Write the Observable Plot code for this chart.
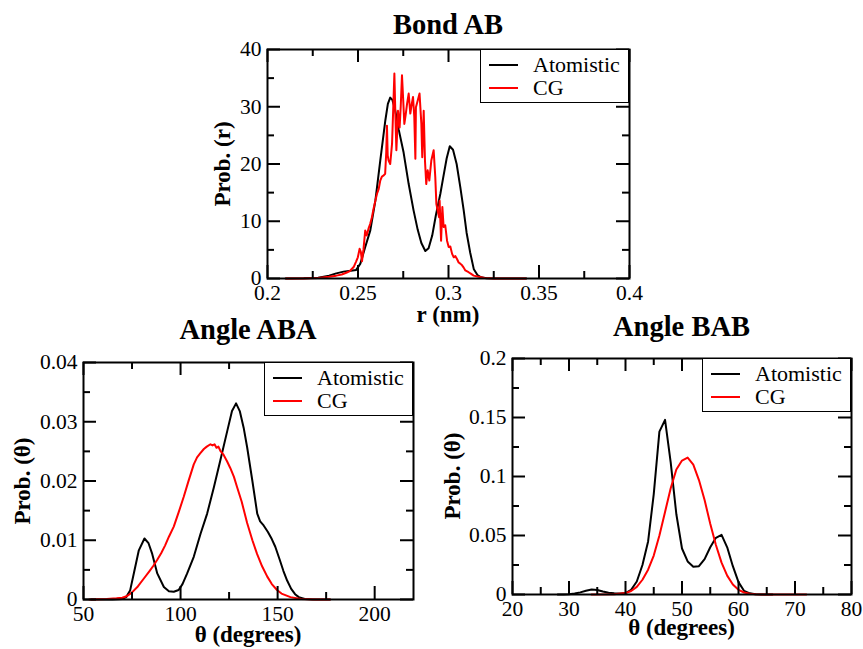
<!DOCTYPE html>
<html>
<head>
<meta charset="utf-8">
<script src="https://cdn.jsdelivr.net/npm/d3@7"></script>
<script src="https://cdn.jsdelivr.net/npm/@observablehq/plot@0.6"></script>
<style>
  html, body { margin: 0; padding: 0; background: #fff; }
  #root { position: relative; width: 863px; height: 649px; background: #fff; overflow: hidden; font-family: 'Liberation Serif', serif; }
  .t { position: absolute; white-space: nowrap; line-height: 1; color: #000; font-family: 'Liberation Serif', serif; }
  svg text { font-family: 'Liberation Serif', serif !important; }
</style>
</head>
<body>
<div id="root"></div>
<script>
// ---------------- DATA ----------------
const seriesNames = ["Atomistic", "CG"];
const seriesColors = ["#000000", "#ff0000"];

// Bond AB : r (nm) vs Prob.(r)
const bondAtomistic = [
  [0.210,0],[0.220,0.05],[0.228,0.15],[0.234,0.5],[0.238,0.9],[0.242,1.2],[0.246,1.35],[0.249,1.5],
  [0.2513,2.6],[0.254,5.5],[0.2568,8.4],[0.2596,13.6],[0.2623,20.6],[0.2651,27.6],[0.2665,30.5],
  [0.2678,31.6],[0.269,31.2],[0.2705,29.5],[0.2725,26],[0.2752,22],[0.278,16.5],[0.2807,11.9],
  [0.283,8.5],[0.285,6.2],[0.2872,4.8],[0.289,5.3],[0.291,7.5],[0.293,11],[0.2955,14.8],[0.297,17.5],
  [0.299,21],[0.3007,23.1],[0.3025,22.5],[0.3045,20],[0.3065,16],[0.3084,11.9],[0.310,8],[0.312,4.5],
  [0.314,1.6],[0.316,0.6],[0.318,0.2],[0.321,0.05],[0.325,0],[0.343,0]
];
const bondCG = [
  [0.2103,0],[0.220,0.02],[0.228,0.1],[0.234,0.3],[0.238,0.5],[0.241,0.7],[0.2435,1.0],[0.2455,1.3],
  [0.2476,2.0],[0.2490,3.0],[0.2499,3.7],[0.2509,5.2],[0.2516,4.6],[0.2522,3.0],[0.2530,5.0],[0.2540,8.4],
  [0.2548,7.5],[0.2558,8.7],[0.2567,9.5],[0.2577,10.7],[0.2586,12.2],[0.2596,13.6],[0.2605,14.8],
  [0.2614,15.6],[0.2623,17.1],[0.2632,17.8],[0.2642,18.0],[0.2650,18.3],[0.2656,22],[0.2660,26.7],
  [0.2664,21.5],[0.2669,20.6],[0.2678,20.0],[0.2688,23.5],[0.2695,30],[0.2701,35.8],[0.2707,28],
  [0.2712,22.4],[0.2717,26],[0.2721,29.3],[0.2730,26.4],[0.2736,30],[0.2743,35.5],[0.2750,31],
  [0.2756,27.0],[0.2763,28.5],[0.2771,30.5],[0.2780,32.3],[0.2789,28.8],[0.2797,30.5],[0.2804,31.7],
  [0.2811,28.2],[0.2817,20.9],[0.2820,29.9],[0.2830,31.1],[0.2840,32.3],[0.2850,27.0],[0.2855,21.2],
  [0.2863,29.3],[0.2870,20.6],[0.2877,16.5],[0.2885,18.9],[0.2894,17.1],[0.2905,20.6],[0.2918,22.4],
  [0.2927,17.7],[0.2933,13.0],[0.2940,11.9],[0.2948,10.7],[0.2951,13.6],[0.2959,6.6],[0.2966,12.5],
  [0.2973,9.0],[0.2982,9.3],[0.2992,6.6],[0.3001,5.5],[0.3010,5.6],[0.3020,4.3],[0.3029,3.7],
  [0.3038,3.9],[0.3047,3.4],[0.3056,2.8],[0.3065,2.6],[0.3075,2.3],[0.3084,1.9],[0.3093,1.4],
  [0.3111,1.1],[0.3125,0.8],[0.3139,0.5],[0.3166,0.3],[0.320,0.1],[0.325,0.02],[0.3427,0]
];
const bondXMajor = [0.2, 0.25, 0.3, 0.35, 0.4];
const bondXMinor = [0.225, 0.275, 0.325, 0.375];
const bondYMajor = [0, 10, 20, 30, 40];
const bondYMinor = [5, 15, 25, 35];

// Angle ABA : theta (degrees) vs Prob.(theta)
const abaAtomistic = [
  [54,0],[65,0],[70,0.0001],[72,0.0004],[74,0.0015],[76,0.0045],[78.5,0.0083],[81.4,0.0103],
  [83.5,0.0095],[85.4,0.0077],[88,0.0044],[91.4,0.0021],[94,0.0014],[96.5,0.0013],[99,0.0016],
  [101,0.0026],[103.4,0.0044],[106.8,0.0072],[110.3,0.0111],[113.7,0.0145],[117.2,0.019],
  [120.5,0.0235],[124.1,0.0285],[126.5,0.0318],[128.6,0.0331],[130.5,0.0318],[132.5,0.029],
  [134.3,0.0257],[137,0.02],[139.5,0.0145],[141,0.0132],[142.8,0.0125],[145,0.0114],[147,0.0102],
  [148.8,0.0089],[151,0.0068],[153,0.0048],[154.9,0.0032],[157,0.0018],[159,0.0009],[160.9,0.0004],
  [164,0.0001],[168,0],[177,0]
];
const abaCG = [
  [53,0],[62,0.0001],[67,0.0002],[70,0.0003],[72.5,0.0006],[75,0.0012],[78,0.0022],[81,0.0035],
  [84,0.0048],[86,0.0057],[88,0.0067],[90,0.0078],[92,0.0091],[94,0.0106],[96.5,0.0123],[99,0.0147],
  [101.6,0.0173],[104,0.0199],[106.8,0.0228],[108.5,0.0240],[110.2,0.0247],[112,0.0254],[113.5,0.0258],
  [115.4,0.0262],[116.5,0.0260],[117.5,0.0262],[118.5,0.0256],[119.5,0.0258],[120.5,0.0251],
  [122,0.0245],[124,0.0233],[125.6,0.0222],[127.5,0.0207],[129.1,0.0190],[131.5,0.0165],[134.3,0.0129],
  [137,0.0100],[139.4,0.0077],[142,0.0056],[144.6,0.0039],[147,0.0026],[149.7,0.0016],[152,0.0010],
  [156.6,0.0004],[162,0.0001],[170,0],[177,0]
];
const abaXMajor = [50, 100, 150, 200];
const abaXMinor = [75, 125, 175];
const abaYMajor = [0, 0.01, 0.02, 0.03, 0.04];
const abaYMinor = [0.005, 0.015, 0.025, 0.035];

// Angle BAB : theta (degrees) vs Prob.(theta)
const babAtomistic = [
  [28,0],[29,0],[30,0.0003],[31,0.0008],[32,0.0018],[33,0.0032],[34,0.0042],[35,0.0038],[36,0.0025],
  [37,0.0015],[38,0.001],[39,0.0008],[40,0.0012],[41,0.004],[42,0.011],[43,0.025],[44,0.045],
  [45,0.085],[46,0.138],[47,0.148],[48,0.112],[49,0.068],[50,0.039],[51,0.028],[52,0.0235],
  [53,0.024],[54,0.03],[55,0.04],[56,0.048],[57,0.0505],[58,0.04],[59,0.024],[60,0.0105],[61,0.003],
  [62,0.001],[63,0.0003],[64,0],[66,0]
];
const babCG = [
  [34,0],[38,0.0002],[40,0.0012],[41,0.003],[42,0.0065],[43,0.0125],[44,0.021],[45,0.033],[46,0.05],
  [47,0.07],[48,0.09],[49,0.106],[50,0.1135],[51,0.116],[52,0.11],[53,0.097],[54,0.08],[55,0.06],
  [56,0.042],[57,0.027],[58,0.016],[59,0.0085],[60,0.004],[61,0.0017],[62,0.0006],[63,0.0002],
  [65,0],[72,0]
];
const babXMajor = [20, 30, 40, 50, 60, 70, 80];
const babXMinor = [25, 35, 45, 55, 65, 75];
const babYMajor = [0, 0.05, 0.1, 0.15, 0.2];
const babYMinor = [0.025, 0.075, 0.125, 0.175];

const titles = ["Bond AB", "Angle ABA", "Angle BAB"];
const xLabels = ["r (nm)", "θ (degrees)", "θ (degrees)"];
const yLabels = ["Prob. (r)", "Prob. (θ)", "Prob. (θ)"];

// ---------------- DRAWING ----------------
const root = document.getElementById("root");
const FONT = "Liberation Serif";

function addText(str, x, baseline, size, weight, align, rotate) {
  const holder = document.createElement("div");
  holder.style.cssText = `position:absolute;left:${x}px;top:${baseline}px;width:0;height:0;`;
  const s = document.createElement("div");
  s.className = "t";
  s.textContent = str;
  s.style.left = "0px";
  s.style.top = "0px";
  s.style.fontSize = size + "px";
  s.style.fontWeight = weight;
  s.style.transformOrigin = "0 0";
  const tx = align === "center" ? "-50%" : "0px";
  s.style.transform = `rotate(${rotate || 0}deg) translate(${tx}, -0.8375em)`;
  holder.appendChild(s);
  root.appendChild(holder);
}

function addLegend(left, top) {
  const box = document.createElement("div");
  box.style.cssText = `position:absolute;left:${left}px;top:${top}px;width:149px;height:54px;box-sizing:border-box;border:1.5px solid #000;background:#fff;`;
  root.appendChild(box);
  seriesNames.forEach((name, i) => {
    const ln = document.createElement("div");
    ln.style.cssText = `position:absolute;left:${left + 9}px;top:${top + 14.5 + 23 * i}px;width:29px;height:2px;background:${seriesColors[i]};`;
    root.appendChild(ln);
    addText(name, left + 53, top + 22.5 + 23 * i, 22, "normal", "left", 0);
  });
}

function drawPanel(p) {
  const [fx0, fx1, fy0, fy1] = p.frame;
  const [bx, by, bw, bh] = p.box;
  const iw = fx1 - fx0, ih = fy1 - fy0;
  const MAJ = 13, MIN = 7;
  const tickStyle = {stroke: "black", strokeWidth: 2};
  const txt = {fontFamily: FONT, fontSize: 21.5, fill: "black"};
  const chart = Plot.plot({
    width: bw, height: bh,
    marginLeft: fx0 - bx, marginRight: bx + bw - fx1,
    marginTop: fy0 - by, marginBottom: by + bh - fy1,
    x: {domain: p.xDomain},
    y: {domain: p.yDomain},
    style: {fontFamily: FONT, fontSize: "21.5px", background: "transparent", overflow: "visible", color: "black"},
    marks: [
      Plot.line(p.series[0], {x: d => d[0], y: d => d[1], stroke: seriesColors[0], strokeWidth: 2}),
      Plot.line(p.series[1], {x: d => d[0], y: d => d[1], stroke: seriesColors[1], strokeWidth: 2}),
      Plot.tickX(p.xMajor, {x: d => d, insetTop: ih - MAJ, ...tickStyle}),
      Plot.tickX(p.xMajor, {x: d => d, insetBottom: ih - MAJ, ...tickStyle}),
      Plot.tickX(p.xMinor, {x: d => d, insetTop: ih - MIN, ...tickStyle}),
      Plot.tickX(p.xMinor, {x: d => d, insetBottom: ih - MIN, ...tickStyle}),
      Plot.tickY(p.yMajor, {y: d => d, insetRight: iw - MAJ, ...tickStyle}),
      Plot.tickY(p.yMajor, {y: d => d, insetLeft: iw - MAJ, ...tickStyle}),
      Plot.tickY(p.yMinor, {y: d => d, insetRight: iw - MIN, ...tickStyle}),
      Plot.tickY(p.yMinor, {y: d => d, insetLeft: iw - MIN, ...tickStyle}),
      Plot.frame({stroke: "black", strokeWidth: 2}),
      Plot.axisX({ticks: p.xMajor, anchor: "bottom", tickSize: 0, tickPadding: 6, tickFormat: d => String(d), label: null, ...txt}),
      Plot.axisY({ticks: p.yMajor, anchor: "left", tickSize: 0, tickPadding: 6, tickFormat: d => String(d), label: null, ...txt})
    ]
  });
  chart.style.position = "absolute";
  chart.style.left = bx + "px";
  chart.style.top = by + "px";
  chart.style.overflow = "visible";
  root.appendChild(chart);

  const cx = (fx0 + fx1) / 2, cy = (fy0 + fy1) / 2;
  addText(p.title, cx, p.titleBaseline, 28.5, "bold", "center", 0);
  addText(p.xLabel, cx, p.xLabelBaseline, 23, "bold", "center", 0);
  addText(p.yLabel, p.yLabelBaseline, cy, 23, "bold", "center", -90);
  addLegend(fx1 - 149, fy0);
}

drawPanel({
  frame: [267, 629, 49, 278], box: [200, 40, 460, 275],
  xDomain: [0.2, 0.4], yDomain: [0, 40],
  xMajor: bondXMajor, xMinor: bondXMinor, yMajor: bondYMajor, yMinor: bondYMinor,
  series: [bondAtomistic, bondCG],
  title: titles[0], titleBaseline: 34.5,
  xLabel: xLabels[0], xLabelBaseline: 322,
  yLabel: yLabels[0], yLabelBaseline: 230
});
drawPanel({
  frame: [83, 413, 362, 599], box: [20, 350, 420, 280],
  xDomain: [50, 220], yDomain: [0, 0.04],
  xMajor: abaXMajor, xMinor: abaXMinor, yMajor: abaYMajor, yMinor: abaYMinor,
  series: [abaAtomistic, abaCG],
  title: titles[1], titleBaseline: 340,
  xLabel: xLabels[1], xLabelBaseline: 642,
  yLabel: yLabels[1], yLabelBaseline: 29.5
});
drawPanel({
  frame: [512, 851, 358, 594], box: [450, 345, 413, 280],
  xDomain: [20, 80], yDomain: [0, 0.2],
  xMajor: babXMajor, xMinor: babXMinor, yMajor: babYMajor, yMinor: babYMinor,
  series: [babAtomistic, babCG],
  title: titles[2], titleBaseline: 337,
  xLabel: xLabels[2], xLabelBaseline: 635,
  yLabel: yLabels[2], yLabelBaseline: 460
});
</script>
</body>
</html>
